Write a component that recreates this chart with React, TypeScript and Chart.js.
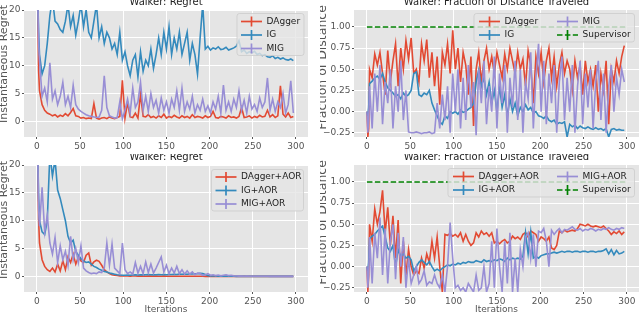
import React, { useEffect, useRef } from "react";
import { Chart, registerables } from "chart.js";

Chart.register(...registerables);

const FONT = "'DejaVu Sans', sans-serif";
const RED = "#E24A33";
const BLUE = "#348ABD";
const PURPLE = "#988ED5";
const GREEN = "#008000";

// iteration index of each sample
const iterations = [
  0, 1, 2, 3, 6, 9, 12, 15, 18, 21,
  24, 27, 30, 33, 36, 39, 42, 45, 48, 51,
  54, 57, 60, 63, 66, 69, 72, 75, 78, 81,
  84, 87, 90, 93, 96, 99, 102, 105, 108, 111,
  114, 117, 120, 123, 126, 129, 132, 135, 138, 141,
  144, 147, 150, 153, 156, 159, 162, 165, 168, 171,
  174, 177, 180, 183, 186, 189, 192, 195, 198, 201,
  204, 207, 210, 213, 216, 219, 222, 225, 228, 231,
  234, 237, 240, 243, 246, 249, 252, 255, 258, 261,
  264, 267, 270, 273, 276, 279, 282, 285, 288, 291,
  294, 297,
];

const xTicks = [0, 50, 100, 150, 200, 250, 300];
const regretTicks = [0, 5, 10, 15, 20];
const fractionTicks = [-0.25, 0, 0.25, 0.5, 0.75, 1.0];

// ---- Top-left: regret ----
const regretDagger = [
  22, 20, 9, 5.5, 3.0, 2.0, 1.5, 1.3, 1.0, 1.2,
  0.8, 1.1, 0.9, 1.4, 1.0, 1.6, 2.3, 1.0, 0.9, 0.6,
  0.7, 0.5, 0.6, 0.5, 3.2, 0.6, 0.4, 0.6, 0.7, 0.5,
  0.8, 0.6, 0.5, 0.7, 0.9, 7.4, 0.6, 3.4, 0.8, 0.7,
  1.5, 0.6, 4.9, 0.9, 0.8, 1.2, 0.7, 0.9, 0.6, 1.0,
  0.7, 1.3, 0.6, 0.9, 0.7, 1.1, 0.8, 0.6, 1.0, 0.7,
  0.9, 0.6, 1.2, 0.7, 0.9, 0.8, 0.6, 1.0, 0.7, 0.9,
  1.8, 0.7, 0.6, 0.9, 0.8, 0.6, 1.0, 0.7, 0.8, 0.6,
  0.9, 2.5, 0.7, 0.8, 1.0, 0.6, 0.9, 0.7, 1.1, 0.8,
  0.9, 2.0, 0.8, 1.2, 0.7, 1.0, 6.4, 1.3, 0.8, 1.5,
  0.7, 0.9,
];
const regretIG = [
  25, 22, 16, 12, 8.5, 10, 14, 19, 22, 18,
  17.5, 16.5, 16, 18, 21, 17, 19, 15.5, 18, 21,
  17, 20, 16, 15, 18, 21, 15, 17, 14, 16,
  15, 13, 14, 12, 16, 11, 12.5, 10, 8.2, 11,
  12, 8, 12.5, 9, 11, 10, 13, 9.5, 12, 15,
  12, 16, 13, 17, 12, 15, 13, 16, 12, 14,
  16, 11, 14, 12, 8.5, 15, 21, 13, 13.5, 12.8,
  13.2, 13, 13.4, 12.9, 13, 13.3, 12.8, 13, 13.2, 13.5,
  14.5, 12.5, 12.8, 12.2, 12.5, 12.3, 12.6, 12, 12.2, 11.8,
  12, 11.6, 11.5, 11.8, 11.3, 11.5, 11.2, 11.4, 11.1, 11,
  11.2, 10.9,
];
const regretMIG = [
  20, 22, 14, 11, 4.5, 6, 3.5, 10.5, 4, 5.5,
  3, 4.5, 7, 3, 4.5, 2.5, 6.5, 3, 2.2, 1.8,
  1.5, 1.2, 1.0, 0.9, 0.8, 0.7, 0.8, 2.0, 8.2, 2.5,
  1.0, 0.8, 0.6, 0.7, 3.5, 0.5, 2.0, 4.0, 1.5, 6.0,
  2.5, 3.5, 7.0, 2.0, 4.5, 1.8, 5.0, 2.5, 3.8, 1.5,
  4.2, 2.0, 3.5, 1.5, 4.0, 2.5, 5.5, 2.0, 6.0, 1.8,
  3.5, 2.2, 4.5, 1.5, 3.0, 2.0, 4.0, 1.8, 2.8, 1.5,
  3.5, 2.2, 4.5, 1.5, 6.5, 2.0, 3.5, 1.8, 4.0, 2.5,
  5.5, 2.0, 3.8, 1.5, 4.5, 2.2, 3.0, 1.8, 4.2, 2.5,
  3.5, 7.8, 2.0, 4.0, 1.8, 3.5, 2.5, 5.0, 1.5, 3.0,
  7.3, 1.5,
];

// ---- Top-right: fraction of distance ----
const fracDagger = [
  0.0, -0.3, -0.2, 0.5, 0.4, 0.68, 0.55, 0.7, 0.45, 0.2,
  0.72, 0.35, 0.6, 0.8, 0.3, 0.75, 0.5, 0.84, 0.62, 0.87,
  0.45, 0.5, 0.35, 0.8, 0.6, 0.85, 0.4, 0.7, 0.3, 0.65,
  0.08, 0.7, 0.55, 0.8, 0.45, 0.96, 0.5, 0.75, 0.35, 0.7,
  0.55, 0.2, 0.65, -0.17, 0.5, 0.7, 0.35, 0.6, 0.75, 0.5,
  0.65, 0.45, 0.7, 0.55, 0.4, 0.68, 0.5, 0.75, 0.6, 0.45,
  0.7, 0.5, 0.62, 0.3, 0.72, 0.55, 0.1, 0.65, 0.45, 0.7,
  0.35, 0.6, 0.75, 0.4, 0.65, 0.3, 0.55, 0.7, 0.45, 0.6,
  0.5, 0.25, 0.6, 0.4, 0.55, 0.2, 0.6, 0.35, 0.5, 0.3,
  0.55, 0.0, 0.45, 0.25, 0.6, -0.15, 0.5, 0.35, 0.6, 0.45,
  0.65, 0.78,
];
const fracIG = [
  0.0, -0.05, 0.05, 0.33, 0.36, 0.4, 0.42, 0.38, 0.45, 0.35,
  0.28, 0.25, 0.22, 0.18, 0.2, 0.15, 0.22, 0.18, 0.2, 0.25,
  0.45, 0.47, 0.2, 0.18, 0.22, 0.2, 0.25, 0.1, 0.02, -0.05,
  -0.12, -0.15, -0.05, -0.08, 0.0, -0.02, 0.0, -0.03, 0.02, -0.01,
  0.0, 0.03, 0.05, 0.1, 0.35, 0.49, 0.3, 0.4, 0.2, 0.35,
  0.1, 0.25, 0.0, 0.3, 0.05, 0.2, -0.05, 0.15, 0.0, 0.1,
  -0.05, 0.05, 0.0, 0.08, 0.02, 0.05, -0.02, 0.0, -0.05, -0.06,
  -0.08, -0.05, -0.1, -0.12, -0.1, -0.15, -0.13, -0.14, -0.12, -0.3,
  -0.15, -0.18, -0.16, -0.2, -0.17, -0.19, -0.2, -0.18, -0.2, -0.21,
  -0.19, -0.21, -0.2, -0.22, -0.2, -0.3, -0.21, -0.2, -0.22, -0.21,
  -0.22, -0.22,
];
const fracMIG = [
  0.0, -0.25, -0.1, 0.3, -0.2, 0.45, 0.0, 0.55, -0.15, 0.35,
  0.1, 0.5, -0.2, 0.3, 0.0, 0.6, -0.1, 0.25, -0.24, -0.25,
  -0.25, -0.24, -0.25, -0.26, -0.25, -0.25, -0.24, -0.26, -0.25, 0.1,
  -0.2, 0.2, -0.1, 0.3, -0.25, 0.45, 0.0, 0.5, -0.2, 0.4,
  -0.1, 0.55, 0.05, 0.35, -0.28, 0.5, 0.1, 0.6, -0.15, 0.3,
  0.0, 0.65, -0.2, 0.45, 0.1, 0.55, -0.25, 0.4, 0.05, 0.6,
  -0.1, 0.5, -0.25, 0.35, 0.15, 0.7, -0.2, 0.4, 0.8, 0.0,
  0.6, -0.15, 0.45, 0.1, 0.55, -0.25, 0.35, 0.65, -0.1, 0.4,
  0.0, 0.55, -0.25, 0.3, 0.6, -0.15, 0.45, 0.05, 0.5, -0.2,
  0.35, 0.6, -0.1, 0.45, -0.25, 0.3, 0.55, 0.0, 0.4, 0.2,
  0.5, 0.35,
];
const supervisorIters = [0, 299];
const supervisorLevel = [1.0, 1.0];

// ---- Bottom-left: regret with AOR ----
const regretDaggerAOR = [
  22, 20, 10, 6, 3, 1.8, 1.2, 0.9, 1.5, 0.8,
  2.2, 1.0, 2.8, 1.2, 3.5, 2.5, 4.0, 2.2, 3.5, 2.8,
  2.5, 3.8, 4.2, 2.0, 2.6, 2.9, 2.7, 2.0, 1.2, 0.8,
  0.5, 0.3, 0.2, 0.15, 0.1, 0.12, 0.08, 0.1, 0.05, 0.08,
  0.06, 0.05, 0.07, 0.05, 0.04, 0.06, 0.05, 0.04, 0.05, 0.04,
  0.04, 0.05, 0.03, 0.04, 0.03, 0.04, 0.03, 0.03, 0.04, 0.03,
  0.03, 0.02, 0.03, 0.02, 0.03, 0.02, 0.02, 0.01, 0.02, 0.01,
  0.01, 0.01, 0.01, 0.01, 0.01, 0.01, 0.01, 0.01, 0.01, 0.01,
  0.01, 0.0, 0.0, 0.0, 0.0, 0.0, 0.0, 0.0, 0.0, 0.0,
  0.0, 0.0, 0.0, 0.0, 0.0, 0.0, 0.0, 0.0, 0.0, 0.0,
  0.0, 0.0,
];
const regretIGAOR = [
  25, 22, 14, 10, 8, 7.5, 10, 22, 18, 21,
  15.5, 14, 12, 10, 7.2, 6, 6.5, 4.5, 3.8, 3.2,
  2.8, 2.5, 2.6, 2.2, 1.8, 1.6, 1.3, 1.1, 0.9, 0.8,
  0.6, 0.5, 0.4, 0.3, 0.25, 0.2, 0.2, 0.25, 0.2, 0.25,
  0.3, 0.25, 0.3, 0.28, 0.3, 0.32, 0.3, 0.28, 0.3, 0.32,
  0.3, 0.35, 0.3, 0.33, 0.35, 0.38, 0.35, 0.4, 0.38, 0.42,
  0.4, 0.45, 0.42, 0.48, 0.5, 0.55, 0.5, 0.35, 0.15, 0.1,
  0.08, 0.06, 0.05, 0.04, 0.03, 0.03, 0.02, 0.02, 0.02, 0.01,
  0.01, 0.01, 0.01, 0.0, 0.0, 0.0, 0.0, 0.0, 0.0, 0.0,
  0.0, 0.0, 0.0, 0.0, 0.0, 0.0, 0.0, 0.0, 0.0, 0.0,
  0.0, 0.0,
];
const regretMIGAOR = [
  20, 22, 12, 9, 16, 8, 11, 6, 4, 7,
  2.5, 5.5, 3, 4.5, 2, 7.2, 3, 5, 2.5, 5.5,
  1.5, 1.0, 0.7, 0.5, 0.6, 0.5, 0.8, 0.7, 1.5, 6.0,
  2.0, 5.8, 1.5, 1.0, 0.5, 6.0, 1.2, 0.5, 0.8, 0.4,
  2.5, 0.6, 1.8, 0.5, 2.6, 0.7, 2.2, 0.6, 1.5, 2.5,
  3.5, 0.8, 2.0, 0.5, 1.5, 0.6, 1.8, 0.5, 1.2, 0.4,
  1.0, 0.4, 0.8, 0.3, 0.6, 0.5, 0.2, 0.3, 0.5, 0.2,
  0.3, 0.15, 0.25, 0.1, 0.2, 0.3, 0.15, 0.2, 0.1, 0.08,
  0.05, 0.06, 0.04, 0.05, 0.03, 0.04, 0.03, 0.03, 0.02, 0.02,
  0.02, 0.02, 0.01, 0.01, 0.01, 0.01, 0.01, 0.01, 0.01, 0.01,
  0.01, 0.01,
];

// ---- Bottom-right: fraction with AOR ----
const fracDaggerAOR = [
  0.0, -0.3, -0.1, 0.5, 0.3, 0.68, 0.5, 0.65, 0.9, 0.4,
  0.7, 0.25, 0.6, 0.1, 0.55, -0.2, 0.3, -0.1, 0.2, 0.0,
  -0.1, -0.05, -0.08, 0.1, -0.02, 0.15, 0.05, 0.3, 0.1, 0.35,
  0.0, -0.3, 0.38, 0.37, 0.39, 0.36, 0.38, 0.35, 0.4, 0.3,
  0.38, 0.3, 0.25, 0.28, 0.4, 0.35, 0.42, 0.38, 0.4, 0.36,
  0.4, 0.28, 0.3, 0.27, 0.3, 0.32, 0.28, 0.3, 0.36, 0.33,
  0.35, 0.32, 0.38, 0.4, 0.35, 0.42, 0.4, 0.38, 0.3, 0.35,
  0.33, 0.3, 0.35, 0.22, 0.2, 0.25, 0.42, 0.4, 0.43, 0.41,
  0.42, 0.43, 0.42, 0.45, 0.5, 0.49, 0.48, 0.5, 0.48, 0.47,
  0.48, 0.47, 0.46, 0.48, 0.45, 0.42, 0.38, 0.41, 0.39, 0.42,
  0.38, 0.41,
];
const fracIGAOR = [
  0.0, -0.05, 0.05, 0.33, 0.36, 0.38, 0.42, 0.45, 0.48, 0.35,
  0.22, 0.18, 0.25, 0.0, 0.2, 0.12, 0.15, 0.1, 0.12, 0.08,
  -0.05, 0.0, 0.05, 0.08, 0.05, 0.02, 0.06, 0.0, -0.05, -0.03,
  -0.05, -0.02, 0.0, 0.02, 0.01, 0.03, 0.02, 0.04, 0.03, 0.05,
  0.04, 0.06, 0.05, 0.05, 0.07, 0.06, 0.05, 0.08, 0.06, 0.07,
  0.06, 0.08, 0.07, 0.09, 0.08, 0.06, 0.1, 0.08, 0.1, 0.09,
  0.1, 0.09, 0.12, 0.4, 0.15, 0.41, 0.1, 0.12, 0.1, 0.13,
  0.14, 0.15, 0.15, 0.16, 0.17, 0.16, 0.17, 0.18, 0.17, 0.18,
  0.18, 0.17, 0.18, 0.18, 0.17, 0.18, 0.18, 0.17, 0.18, 0.18,
  0.17, 0.18, 0.18, 0.19, 0.21, 0.15, 0.2, 0.14, 0.19, 0.15,
  0.16, 0.18,
];
const fracMIGAOR = [
  0.0, -0.25, -0.1, 0.35, -0.2, 0.4, 0.1, 0.58, -0.1, 0.45,
  -0.2, 0.3, 0.5, -0.15, 0.4, 0.0, 0.35, -0.25, 0.1, -0.2,
  -0.1, 0.0, -0.2, -0.15, -0.05, -0.22, -0.18, -0.2, -0.1, -0.2,
  -0.25, -0.1, -0.3, 0.0, 0.52, 0.1, -0.25, -0.22, -0.28, -0.25,
  -0.3, -0.2, -0.25, -0.3, -0.1, -0.28, -0.25, 0.0, -0.3, -0.2,
  0.3, -0.25, 0.45, 0.0, -0.3, 0.3, -0.2, 0.4, -0.3, 0.1,
  -0.3, 0.2, 0.0, 0.35, 0.4, 0.1, 0.38, 0.0, 0.42, 0.4,
  0.45, 0.3, 0.0, 0.43, 0.38, 0.42, 0.45, 0.4, 0.44, 0.43,
  0.45, 0.47, 0.44, 0.43, 0.45, 0.42, 0.44, 0.43, 0.45, 0.44,
  0.42, 0.44, 0.43, 0.45, 0.44, 0.46, 0.44, 0.43, 0.45, 0.44,
  0.46, 0.45,
];

type Series = { label: string; values: number[]; xs?: number[]; color: string; dash?: number[]; order: number };
type LegendPos = { hx: number; y: number };
type PanelSpec = {
  rect: { left: number; top: number; width: number; height: number };
  area: { left: number; top: number; right: number; bottom: number };
  xMin: number; xMax: number; yMin: number; yMax: number;
  yTicks: number[]; yFmt: (v: number) => string;
  series: Series[];
  title: string; titleY: number;
  ylabel: string; ylabelX: number; ylabelY: number; ylabelSize: number;
  xlabel?: string; xlabelY?: number;
  legendBox: [number, number, number, number];
  legendPos: LegendPos[];
};

const fmtInt = (v: number) => String(v);
const fmt2 = (v: number) => v.toFixed(2).replace("-", "\u2212");

function decorPlugin(spec: PanelSpec) {
  const ox = spec.rect.left;
  const oy = spec.rect.top;
  return {
    id: "decor",
    beforeDraw(chart: any) {
      const { ctx, chartArea: a } = chart;
      ctx.save();
      ctx.fillStyle = "#E5E5E5";
      ctx.fillRect(a.left, a.top, a.right - a.left, a.bottom - a.top);
      ctx.restore();
    },
    afterDraw(chart: any) {
      const { ctx, chartArea: a } = chart;
      ctx.save();
      // title
      ctx.fillStyle = "#222222";
      ctx.font = `10px ${FONT}`;
      ctx.textAlign = "center";
      ctx.textBaseline = "alphabetic";
      ctx.fillText(spec.title, (a.left + a.right) / 2, spec.titleY - oy);
      // y label
      ctx.fillStyle = "#555555";
      ctx.font = `${spec.ylabelSize}px ${FONT}`;
      ctx.save();
      ctx.translate(spec.ylabelX - ox, spec.ylabelY - oy);
      ctx.rotate(-Math.PI / 2);
      ctx.textBaseline = "middle";
      ctx.fillText(spec.ylabel, 0, 0);
      ctx.restore();
      // x label
      if (spec.xlabel) {
        ctx.font = `9px ${FONT}`;
        ctx.textBaseline = "middle";
        ctx.fillText(spec.xlabel, (a.left + a.right) / 2, (spec.xlabelY || 0) - oy);
      }
      // legend
      const [bx0, by0, bx1, by1] = spec.legendBox;
      const x0 = bx0 - ox, y0 = by0 - oy, w = bx1 - bx0, h = by1 - by0, r = 2.5;
      ctx.beginPath();
      ctx.moveTo(x0 + r, y0);
      ctx.lineTo(x0 + w - r, y0);
      ctx.arcTo(x0 + w, y0, x0 + w, y0 + r, r);
      ctx.lineTo(x0 + w, y0 + h - r);
      ctx.arcTo(x0 + w, y0 + h, x0 + w - r, y0 + h, r);
      ctx.lineTo(x0 + r, y0 + h);
      ctx.arcTo(x0, y0 + h, x0, y0 + h - r, r);
      ctx.lineTo(x0, y0 + r);
      ctx.arcTo(x0, y0, x0 + r, y0, r);
      ctx.closePath();
      ctx.fillStyle = "rgba(229,229,229,0.8)";
      ctx.fill();
      ctx.strokeStyle = "rgba(204,204,204,0.8)";
      ctx.lineWidth = 1;
      ctx.stroke();
      spec.series.forEach((s, i) => {
        const p = spec.legendPos[i];
        if (!p) return;
        const hx = p.hx - ox, y = p.y - oy;
        ctx.strokeStyle = s.color;
        ctx.lineWidth = 1.7;
        ctx.setLineDash(s.dash || []);
        ctx.beginPath();
        ctx.moveTo(hx, y);
        ctx.lineTo(hx + 21, y);
        ctx.stroke();
        ctx.setLineDash([]);
        ctx.beginPath();
        ctx.moveTo(hx + 10.5, y - 5);
        ctx.lineTo(hx + 10.5, y + 5);
        ctx.stroke();
        ctx.fillStyle = "#222222";
        ctx.font = `9px ${FONT}`;
        ctx.textAlign = "left";
        ctx.textBaseline = "middle";
        ctx.fillText(s.label, hx + 25.5, y);
      });
      ctx.restore();
    },
  };
}

function Panel({ spec }: { spec: PanelSpec }) {
  const ref = useRef<HTMLCanvasElement>(null);
  useEffect(() => {
    const canvas = ref.current;
    if (!canvas) return;
    const { rect, area } = spec;
    const padTop = area.top - rect.top;
    const padRight = rect.left + rect.width - area.right;
    const yW = area.left - rect.left;
    const xH = rect.top + rect.height - area.bottom;
    const tickFont = { family: FONT, size: 9 };
    const chart = new Chart(canvas, {
      type: "line",
      data: {
        datasets: spec.series.map((s) => ({
          label: s.label,
          data: (s.xs || iterations).map((x, i) => ({ x, y: s.values[i] })),
          borderColor: s.color,
          backgroundColor: s.color,
          borderWidth: 1.6,
          borderDash: s.dash || [],
          pointRadius: 0,
          tension: 0,
          fill: false,
          order: s.order,
          clip: 0,
        })),
      },
      options: {
        responsive: false,
        maintainAspectRatio: false,
        animation: false,
        devicePixelRatio: 1,
        events: [],
        layout: { padding: { left: 0, top: padTop, right: padRight, bottom: 0 } },
        plugins: { legend: { display: false }, title: { display: false }, tooltip: { enabled: false } },
        scales: {
          x: {
            type: "linear",
            min: spec.xMin,
            max: spec.xMax,
            afterBuildTicks: (s: any) => { s.ticks = xTicks.map((v) => ({ value: v })); },
            afterFit: (s: any) => { s.height = xH; s.paddingLeft = 0; s.paddingRight = 0; },
            grid: { color: "#FFFFFF", lineWidth: 1, tickColor: "#555555", tickLength: 2, drawTicks: true },
            border: { display: false },
            ticks: { color: "#555555", font: tickFont, padding: 2, maxRotation: 0, autoSkip: false, callback: (v: any) => fmtInt(Number(v)) },
          },
          y: {
            type: "linear",
            min: spec.yMin,
            max: spec.yMax,
            afterBuildTicks: (s: any) => { s.ticks = spec.yTicks.map((v) => ({ value: v })); },
            afterFit: (s: any) => { s.width = yW; s.paddingTop = 0; s.paddingBottom = 0; },
            grid: { color: "#FFFFFF", lineWidth: 1, tickColor: "#555555", tickLength: 2, drawTicks: true },
            border: { display: false },
            ticks: { color: "#555555", font: tickFont, padding: 1.5, autoSkip: false, callback: (v: any) => spec.yFmt(Number(v)) },
          },
        },
      } as any,
      plugins: [decorPlugin(spec)],
    });
    return () => chart.destroy();
  }, [spec]);
  const { rect } = spec;
  return (
    <canvas
      ref={ref}
      width={rect.width}
      height={rect.height}
      style={{ position: "absolute", left: rect.left, top: rect.top, width: rect.width, height: rect.height }}
    />
  );
}

const panels: PanelSpec[] = [
  {
    rect: { left: 0, top: 0, width: 320, height: 154 },
    area: { left: 24, top: 10, right: 308, bottom: 137 },
    xMin: -14.95, xMax: 313.95, yMin: -2.8, yMax: 20,
    yTicks: regretTicks, yFmt: fmtInt,
    series: [
      { label: "DAgger", values: regretDagger, color: RED, order: 3 },
      { label: "IG", values: regretIG, color: BLUE, order: 2 },
      { label: "MIG", values: regretMIG, color: PURPLE, order: 1 },
    ],
    title: "Walker: Regret", titleY: 4.8,
    ylabel: "Instantaneous Regret", ylabelX: 4.5, ylabelY: 64, ylabelSize: 11,
    legendBox: [237, 13.5, 304, 55.5],
    legendPos: [{ hx: 241, y: 21.5 }, { hx: 241, y: 35 }, { hx: 241, y: 48.5 }],
  },
  {
    rect: { left: 320, top: 0, width: 320, height: 154 },
    area: { left: 354, top: 10, right: 639, bottom: 137 },
    xMin: -14.95, xMax: 313.95, yMin: -0.3, yMax: 1.2,
    yTicks: fractionTicks, yFmt: fmt2,
    series: [
      { label: "DAgger", values: fracDagger, color: RED, order: 4 },
      { label: "IG", values: fracIG, color: BLUE, order: 3 },
      { label: "MIG", values: fracMIG, color: PURPLE, order: 2 },
      { label: "Supervisor", values: supervisorLevel, xs: supervisorIters, color: GREEN, dash: [5.5, 2.4], order: 1 },
    ],
    title: "Walker: Fraction of Distance Traveled", titleY: 4.8,
    ylabel: "Fraction of Distance Traveled", ylabelX: 323, ylabelY: 39, ylabelSize: 12.5,
    legendBox: [474, 13.5, 634.5, 42],
    legendPos: [{ hx: 479, y: 21.5 }, { hx: 479, y: 35 }, { hx: 557, y: 21.5 }, { hx: 557, y: 35 }],
  },
  {
    rect: { left: 0, top: 154, width: 320, height: 161 },
    area: { left: 24, top: 165, right: 308, bottom: 292 },
    xMin: -14.95, xMax: 313.95, yMin: -2.8, yMax: 20,
    yTicks: regretTicks, yFmt: fmtInt,
    series: [
      { label: "DAgger+AOR", values: regretDaggerAOR, color: RED, order: 3 },
      { label: "IG+AOR", values: regretIGAOR, color: BLUE, order: 2 },
      { label: "MIG+AOR", values: regretMIGAOR, color: PURPLE, order: 1 },
    ],
    title: "Walker: Regret", titleY: 159.8,
    ylabel: "Instantaneous Regret", ylabelX: 4.5, ylabelY: 220, ylabelSize: 11,
    xlabel: "Iterations", xlabelY: 309.5,
    legendBox: [211.5, 169.5, 303.5, 211],
    legendPos: [{ hx: 215.5, y: 177 }, { hx: 215.5, y: 190.5 }, { hx: 215.5, y: 204 }],
  },
  {
    rect: { left: 320, top: 154, width: 320, height: 161 },
    area: { left: 354, top: 165, right: 639, bottom: 292 },
    xMin: -14.95, xMax: 313.95, yMin: -0.3, yMax: 1.2,
    yTicks: fractionTicks, yFmt: fmt2,
    series: [
      { label: "DAgger+AOR", values: fracDaggerAOR, color: RED, order: 4 },
      { label: "IG+AOR", values: fracIGAOR, color: BLUE, order: 3 },
      { label: "MIG+AOR", values: fracMIGAOR, color: PURPLE, order: 2 },
      { label: "Supervisor", values: supervisorLevel, xs: supervisorIters, color: GREEN, dash: [5.5, 2.4], order: 1 },
    ],
    title: "Walker: Fraction of Distance Traveled", titleY: 159.8,
    ylabel: "Fraction of Distance Traveled", ylabelX: 323, ylabelY: 194, ylabelSize: 12.5,
    xlabel: "Iterations", xlabelY: 309.5,
    legendBox: [448, 168.5, 634.5, 197],
    legendPos: [{ hx: 453, y: 176.5 }, { hx: 453, y: 190 }, { hx: 557, y: 176.5 }, { hx: 557, y: 190 }],
  },
];

export default function App() {
  return (
    <div style={{ position: "absolute", left: 0, top: 0, width: 640, height: 315, background: "#FFFFFF", overflow: "hidden" }}>
      {panels.map((p, i) => (
        <Panel key={i} spec={p} />
      ))}
    </div>
  );
}
